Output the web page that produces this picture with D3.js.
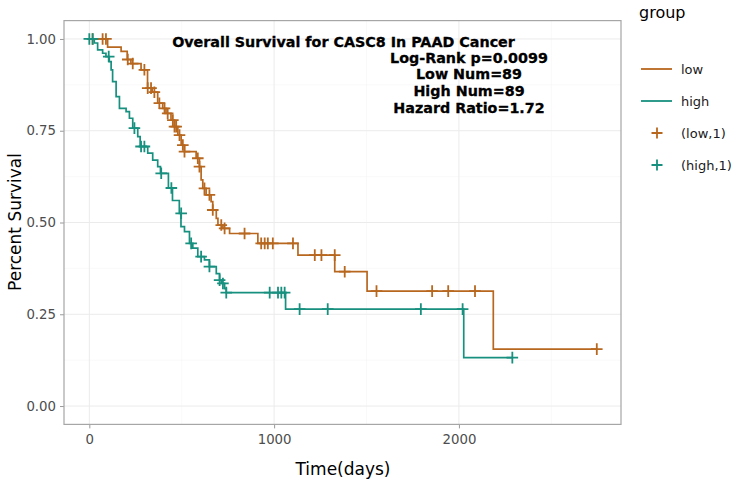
<!DOCTYPE html>
<html><head><meta charset="utf-8">
<script src="https://cdn.jsdelivr.net/npm/d3@7"></script>
<style>body{margin:0;background:#fff}svg{display:block}</style>
</head><body>
<svg id="chart" width="739" height="482"></svg>
<script>
// ---- data ----
const groups = ["low", "high"];
const groupColors = ["#B8671F", "#17907F"];
// step points: [time, survival after the step]
const lowSteps = [[0,1],[99,0.978],[172,0.966],[205,0.944],[225,0.933],[280,0.916],[315,0.866],[340,0.855],[370,0.825],[397,0.811],[415,0.797],[442,0.779],[461,0.761],[479,0.738],[497,0.711],[515,0.693],[578,0.675],[596,0.652],[605,0.616],[614,0.593],[632,0.575],[659,0.557],[668,0.534],[687,0.511],[696,0.493],[723,0.484],[759,0.470],[912,0.443],[1129,0.411],[1328,0.366],[1503,0.313],[2186,0.155],[2746,0.155]];
const highSteps = [[0,1],[27,0.989],[45,0.970],[72,0.961],[90,0.952],[108,0.938],[118,0.916],[126,0.884],[145,0.843],[163,0.811],[199,0.802],[217,0.784],[235,0.757],[262,0.734],[275,0.707],[316,0.689],[343,0.670],[370,0.652],[385,0.634],[428,0.594],[450,0.560],[487,0.525],[496,0.489],[515,0.475],[542,0.443],[560,0.430],[587,0.407],[623,0.398],[650,0.380],[687,0.361],[705,0.343],[714,0.334],[732,0.320],[741,0.309],[1062,0.264],[2026,0.132],[2289,0.132]];
// censor marks: [time, survival]
const lowCensor = [[18,1],[72,1],[90,1],[208,0.944],[235,0.933],[298,0.916],[316,0.866],[334,0.866],[352,0.855],[379,0.825],[407,0.811],[424,0.797],[452,0.779],[461,0.761],[470,0.761],[488,0.738],[506,0.711],[515,0.693],[587,0.675],[596,0.652],[623,0.593],[650,0.575],[668,0.534],[714,0.493],[732,0.484],[840,0.470],[930,0.443],[949,0.443],[966,0.443],[993,0.443],[1102,0.443],[1220,0.411],[1256,0.411],[1328,0.411],[1382,0.366],[1554,0.313],[1855,0.313],[1942,0.313],[2087,0.313],[2746,0.155]];
const highCensor = [[0,1],[18,1],[105,0.952],[244,0.757],[280,0.707],[298,0.707],[389,0.634],[444,0.594],[497,0.525],[551,0.443],[605,0.407],[650,0.380],[705,0.343],[723,0.334],[741,0.309],[976,0.309],[1021,0.309],[1039,0.309],[1057,0.309],[1138,0.264],[1290,0.264],[1794,0.264],[2020,0.264],[2289,0.132]];
const xTicks = [0, 1000, 2000];
const yTicks = [0, 0.25, 0.5, 0.75, 1];
const titleText = "Overall Survival for CASC8 In PAAD Cancer";
const statLines = ["Log-Rank p=0.0099", "Low Num=89", "High Num=89", "Hazard Ratio=1.72"];
const legendLabels = ["low", "high", "(low,1)", "(high,1)"];

// ---- layout ----
const svg = d3.select("#chart");
const P = {left: 64, right: 621, top: 20.6, bottom: 424.4};
const x = d3.scaleLinear().domain([-137, 2877]).range([P.left, P.right]);
const y = d3.scaleLinear().domain([-0.05, 1.05]).range([P.bottom, P.top]);
const font = "DejaVu Sans, Verdana, sans-serif";

// grid
const g = svg.append("g");
const xMinor = [-500, 500, 1500, 2500];
const yMinor = [0.125, 0.375, 0.625, 0.875];
g.selectAll(".xm").data(xMinor.filter(v => x(v) > P.left && x(v) < P.right)).enter().append("line")
  .attr("x1", d => x(d)).attr("x2", d => x(d)).attr("y1", P.top).attr("y2", P.bottom)
  .attr("stroke", "#f5f5f5").attr("stroke-width", 0.6);
g.selectAll(".ym").data(yMinor).enter().append("line")
  .attr("y1", d => y(d)).attr("y2", d => y(d)).attr("x1", P.left).attr("x2", P.right)
  .attr("stroke", "#f5f5f5").attr("stroke-width", 0.6);
g.selectAll(".xg").data(xTicks).enter().append("line")
  .attr("x1", d => x(d)).attr("x2", d => x(d)).attr("y1", P.top).attr("y2", P.bottom)
  .attr("stroke", "#ebebeb").attr("stroke-width", 1);
g.selectAll(".yg").data(yTicks).enter().append("line")
  .attr("y1", d => y(d)).attr("y2", d => y(d)).attr("x1", P.left).attr("x2", P.right)
  .attr("stroke", "#ebebeb").attr("stroke-width", 1);

// axes
const xAxis = svg.append("g").attr("transform", `translate(0,${P.bottom})`)
  .call(d3.axisBottom(x).tickValues(xTicks).tickSize(4).tickPadding(4).tickFormat(d3.format("d")));
const yAxis = svg.append("g").attr("transform", `translate(${P.left},0)`)
  .call(d3.axisLeft(y).tickValues(yTicks).tickSize(4).tickPadding(4).tickFormat(d3.format(".2f")));
[xAxis, yAxis].forEach(a => {
  a.select(".domain").remove();
  a.selectAll(".tick line").attr("stroke", "#999").attr("stroke-width", 1);
  a.selectAll(".tick text").attr("fill", "#4d4d4d").style("font-family", font).style("font-size", "13.3px");
});
xAxis.selectAll(".tick text").attr("dy", "0.9em");

// panel border
svg.append("rect").attr("x", P.left).attr("y", P.top).attr("width", P.right - P.left).attr("height", P.bottom - P.top)
  .attr("fill", "none").attr("stroke", "#a6a6a6").attr("stroke-width", 1.2);

// curves
const line = d3.line().x(d => x(d[0])).y(d => y(d[1])).curve(d3.curveStepAfter);
const plot = svg.append("g");
[lowSteps, highSteps].forEach((s, i) => {
  plot.append("path").datum(s).attr("d", line).attr("fill", "none")
    .attr("stroke", groupColors[i]).attr("stroke-width", 1.7);
});
function plus(sel, cx, cy, col, r) {
  sel.append("path").attr("d", `M${cx - r},${cy}H${cx + r}M${cx},${cy - r}V${cy + r}`)
    .attr("stroke", col).attr("stroke-width", 1.8).attr("fill", "none");
}
[lowCensor, highCensor].forEach((c, i) => {
  c.forEach(d => plus(plot, x(d[0]), y(d[1]), groupColors[i], 5.8));
});

// title and stats
const boldStyle = s => s.style("font-family", font).style("font-weight", "bold").style("font-size", "14.3px")
  .attr("fill", "#000").attr("stroke", "#000").attr("stroke-width", 0.3);
svg.append("text").attr("x", 343.5).attr("y", 46.5).attr("text-anchor", "middle").call(boldStyle).text(titleText);
statLines.forEach((t, i) => {
  svg.append("text").attr("x", 469).attr("y", 62.5 + i * 16.9).attr("text-anchor", "middle").call(boldStyle).text(t);
});

// axis titles
svg.append("text").attr("transform", "translate(21,222) rotate(-90)").attr("text-anchor", "middle")
  .style("font-family", font).style("font-size", "17px").attr("fill", "#000").text("Percent Survival");
svg.append("text").attr("x", 343).attr("y", 475).attr("text-anchor", "middle")
  .style("font-family", font).style("font-size", "17px").attr("fill", "#000").text("Time(days)");

// legend
const lg = svg.append("g");
lg.append("text").attr("x", 639).attr("y", 18).style("font-family", font).style("font-size", "16px")
  .attr("fill", "#000").text("group");
const legY = [69, 101, 133, 165];
legendLabels.forEach((lab, i) => {
  const col = groupColors[i % 2];
  if (i < 2) {
    lg.append("line").attr("x1", 641).attr("x2", 672).attr("y1", legY[i]).attr("y2", legY[i])
      .attr("stroke", col).attr("stroke-width", 1.8);
  } else {
    plus(lg, 657, legY[i], col, 5.5);
  }
  lg.append("text").attr("x", 681).attr("y", legY[i] + 5).style("font-family", font).style("font-size", "13px")
    .attr("fill", "#1a1a1a").text(lab);
});
</script>
</body></html>
